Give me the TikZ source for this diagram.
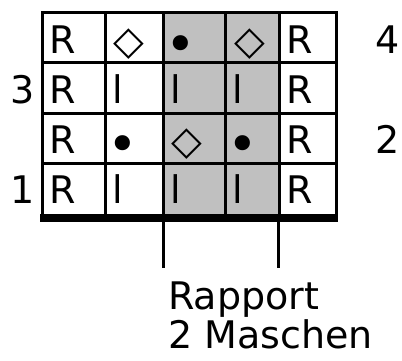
\documentclass[tikz,border=0pt]{standalone}
\usepackage{fontspec}
\setmainfont{DejaVu Sans}
\begin{document}
\begin{tikzpicture}[x=1pt,y=-1pt,
  txt/.style={anchor=base west, inner sep=0pt, font=\fontsize{38}{39}\selectfont},
  lbl/.style={inner sep=0pt, font=\fontsize{38}{39}\selectfont},
  dia/.style={anchor=base, inner sep=0pt, yshift=-1pt, font=\fontsize{40}{41}\selectfont},
  dot/.style={anchor=base, inner sep=0pt, yshift=-9pt, font=\fontsize{52}{54}\selectfont},
  grid line/.style={line width=3pt, black},
  shade/.style={fill={rgb,255:red,192;green,192;blue,192}}]
\useasboundingbox (0,0) rectangle (402,360);
% shaded repeat columns
\fill[shade] (163.5,12.5) rectangle (279,217);
% horizontal grid lines
\foreach \y in {12.5,62.5,113,163.5}
  \draw[grid line] (41,\y) -- (337.5,\y);
% vertical grid lines
\foreach \x in {42.5,105.5,163.5,225,279,336}
  \draw[grid line] (\x,11) -- (\x,217);
% thick bottom line
\draw[line width=8pt] (40,217.5) -- (338,217.5);
% repeat markers
\coordinate (ra) at (163.5,217.5);
\coordinate (rb) at (278.5,217.5);
\coordinate (ra2) at (163.5,268);
\coordinate (rb2) at (278.5,268);
\draw[grid line] (ra) -- (ra2);
\draw[grid line] (rb) -- (rb2);
% edge stitches
\foreach \row/\b in {1/53,2/103,3/153,4/203}{
  \node[txt] (r\row c1) at (49.5,\b) {R};
  \node[txt] (r\row c5) at (286,\b) {R};
}
% plain rows
\foreach \row/\b in {2/103,4/203}{
  \node[txt] (r\row c2) at (112.5,\b) {l};
  \node[txt] (r\row c3) at (170.5,\b) {l};
  \node[txt] (r\row c4) at (232,\b) {l};
}
% pattern rows
\node[dia] (r1c2) at (129,53) {◇};
\node[dot] (r1c3) at (181,53) {•};
\node[dia] (r1c4) at (249.5,53) {◇};
\node[dot] (r3c2) at (123.3,153) {•};
\node[dia] (r3c3) at (186.5,153) {◇};
\node[dot] (r3c4) at (243,153) {•};
% row numbers
\node[lbl, anchor=base east] (n3) at (35,103) {3};
\node[lbl, anchor=base east] (n1) at (35,203) {1};
\node[lbl, anchor=base west] (n4) at (375,53) {4};
\node[lbl, anchor=base west] (n2) at (375,153) {2};
% caption
\node[lbl, anchor=base west] (cap1) at (168,309) {Rapport};
\node[lbl, anchor=base west] (cap2) at (168,348) {2 Maschen};
\end{tikzpicture}
\end{document}
